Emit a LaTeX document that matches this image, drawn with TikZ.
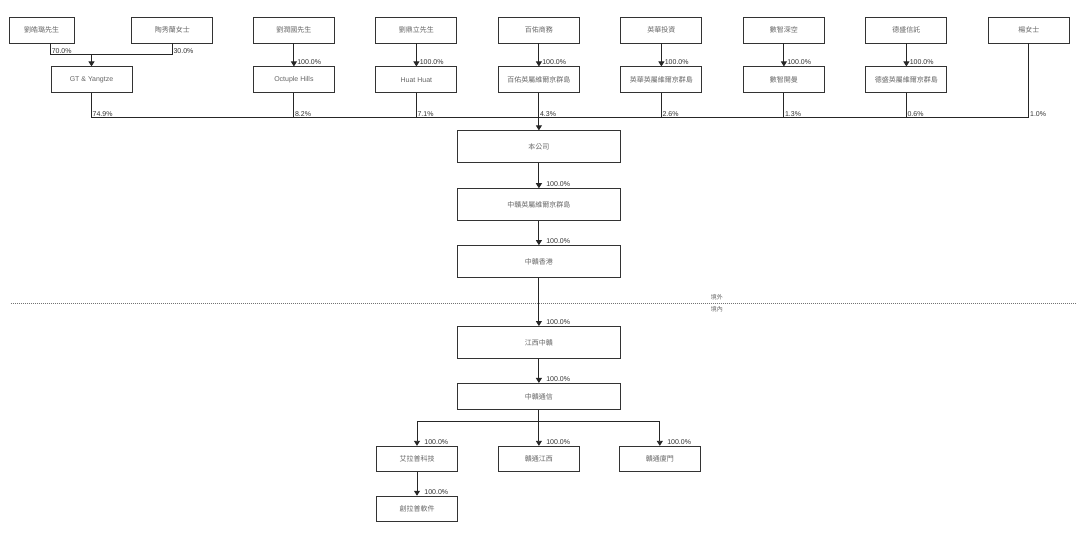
\documentclass[tikz,border=0pt]{standalone}
\usepackage{fontspec}
\setmainfont{Liberation Sans}
\newfontfamily\cjk{Noto Sans CJK TC}
\usetikzlibrary{positioning,arrows.meta}
\tikzset{
box/.style={draw=black!80,line width=0.9pt,minimum width=81pt,minimum height=26pt,inner sep=0pt,text=black!60,font=\cjk\fontsize{7}{8}\selectfont},
latin/.style={box,font=\fontsize{7}{8}\selectfont},
big/.style={box,minimum width=163pt,minimum height=32pt},
link/.style={draw=black!85,line width=0.9pt},
arr/.style={link,-{Triangle[length=5pt,width=6pt]}},
pct/.style={inner sep=1pt,font=\fontsize{7}{8}\selectfont,text=black!80},
zone/.style={inner sep=1pt,font=\cjk\fontsize{6}{7}\selectfont,text=black!60}
}
\begin{document}
\begin{tikzpicture}
\useasboundingbox[fill=white] (0,0) rectangle (1080pt,-537pt);
\node[box,minimum width=65pt](p1) at (41.5pt,-30pt){劉皓璐先生};
\node[box,right=57pt of p1](p2){陶秀蘭女士};
\node[box,right=39.6pt of p2](p3){劉潤國先生};
\node[box,right=40.6pt of p3](p4){劉鼎立先生};
\node[box,right=40.6pt of p4](p5){百佑商務};
\node[box,right=40.6pt of p5](p6){英華投資};
\node[box,right=40.6pt of p6](p7){數智深空};
\node[box,right=40.6pt of p7](p8){德盛信託};
\node[box,right=40.6pt of p8](p9){楊女士};
\node[latin,below=23pt of p1,xshift=50pt](h1){GT \& Yangtze};
\node[latin,below=23pt of p3](h2){Octuple Hills};
\node[latin,below=23pt of p4](h3){Huat Huat};
\node[box,below=23pt of p5](h4){百佑英屬維爾京群島};
\node[box,below=23pt of p6](h5){英華英屬維爾京群島};
\node[box,below=23pt of p7](h6){數智開曼};
\node[box,below=23pt of p8](h7){德盛英屬維爾京群島};
\node[big,below=37pt of h4](c1){本公司};
\node[big,below=25pt of c1](c2){中贛英屬維爾京群島};
\node[big,below=24pt of c2](c3){中贛香港};
\node[big,below=48pt of c3](c4){江西中贛};
\node[big,minimum height=26pt,below=24pt of c4](c5){中贛通信};
\node[box,minimum height=25pt,below=36pt of c5](b2){贛通江西};
\node[box,minimum height=25pt,left=40pt of b2](b1){艾拉普科技};
\node[box,minimum height=25pt,right=39pt of b2](b3){贛通廈門};
\node[box,minimum height=25pt,below=24pt of b1](b4){創拉普軟件};
\coordinate[above=12pt of h1](j1);
\coordinate[above=13pt of c1](bar);
\coordinate[below=25pt of c3](sep);
\coordinate[above=24pt of b2](fork);
\draw[link](h1.west|-p1.south)|-(j1)-|(p2.south);
\node[pct,anchor=south west](t1) at (h1.west|-j1){70.0\%};
\node[pct,anchor=south west](t2) at (p2.south|-j1){30.0\%};
\draw[arr](j1)--(h1);
\draw[arr](p3)--(h2) node[pct,pos=1,anchor=south west,xshift=2pt](t3){100.0\%};
\draw[arr](p4)--(h3) node[pct,pos=1,anchor=south west,xshift=2pt](t4){100.0\%};
\draw[arr](p5)--(h4) node[pct,pos=1,anchor=south west,xshift=2pt](t5){100.0\%};
\draw[arr](p6)--(h5) node[pct,pos=1,anchor=south west,xshift=2pt](t6){100.0\%};
\draw[arr](p7)--(h6) node[pct,pos=1,anchor=south west,xshift=2pt](t7){100.0\%};
\draw[arr](p8)--(h7) node[pct,pos=1,anchor=south west,xshift=2pt](t8){100.0\%};
\draw[link](h1.south)|-(p9.south|-bar)--(p9.south);
\draw[link](h2.south)--(h2.south|-bar);
\draw[link](h3.south)--(h3.south|-bar);
\draw[link](h5.south)--(h5.south|-bar);
\draw[link](h6.south)--(h6.south|-bar);
\draw[link](h7.south)--(h7.south|-bar);
\draw[arr](h4)--(c1);
\node[pct,anchor=south west](s1) at (h1.south|-bar){74.9\%};
\node[pct,anchor=south west](s2) at (h2.south|-bar){8.2\%};
\node[pct,anchor=south west](s3) at (h3.south|-bar){7.1\%};
\node[pct,anchor=south west](s4) at (bar){4.3\%};
\node[pct,anchor=south west](s5) at (h5.south|-bar){2.6\%};
\node[pct,anchor=south west](s6) at (h6.south|-bar){1.3\%};
\node[pct,anchor=south west](s7) at (h7.south|-bar){0.6\%};
\node[pct,anchor=south west](s8) at (p9.south|-bar){1.0\%};
\draw[arr](c1)--(c2) node[pct,pos=1,anchor=south west,xshift=6pt](u1){100.0\%};
\draw[arr](c2)--(c3) node[pct,pos=1,anchor=south west,xshift=6pt](u2){100.0\%};
\draw[arr](c3)--(c4) node[pct,pos=1,anchor=south west,xshift=6pt](u3){100.0\%};
\draw[arr](c4)--(c5) node[pct,pos=1,anchor=south west,xshift=6pt](u4){100.0\%};
\draw[black!55,line width=1pt,densely dotted]([xshift=-528pt]sep)--([xshift=537pt]sep);
\node[zone,above=2pt of sep,xshift=178pt](z1){境外};
\node[zone,below=2pt of sep,xshift=178pt](z2){境內};
\draw[link](b1.north|-fork)--(b3.north|-fork);
\draw[arr](c5)--(b2) node[pct,pos=1,anchor=south west,xshift=6pt](v2){100.0\%};
\draw[arr](b1.north|-fork)--(b1) node[pct,pos=1,anchor=south west,xshift=6pt](v1){100.0\%};
\draw[arr](b3.north|-fork)--(b3) node[pct,pos=1,anchor=south west,xshift=6pt](v3){100.0\%};
\draw[arr](b1)--(b4) node[pct,pos=1,anchor=south west,xshift=6pt](v4){100.0\%};
\end{tikzpicture}
\end{document}
